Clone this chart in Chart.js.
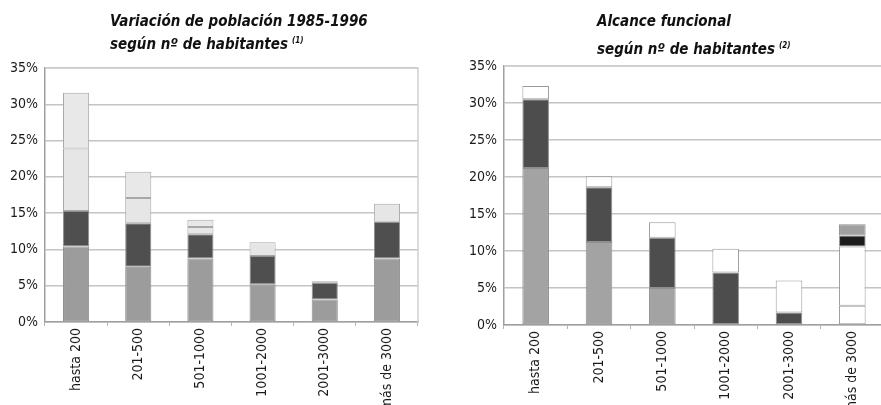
<!DOCTYPE html>
<html>
<head>
<meta charset="UTF-8">
<title>Variación de población / Alcance funcional</title>
<script src="https://cdn.jsdelivr.net/npm/chart.js@4.4.1/dist/chart.umd.min.js"></script>
<style>
  body { margin: 0; background: #fff; width: 881px; height: 405px; overflow: hidden; position: relative; }
  #izq { position: absolute; left: 0; top: 0; }
  #der { position: absolute; left: 440px; top: 0; }
</style>
</head>
<body>
<canvas id="izq" width="440" height="405"></canvas>
<canvas id="der" width="445" height="405"></canvas>
<script>
// categorias (tramos de habitantes)
var categorias = ["hasta 200", "201-500", "501-1000", "1001-2000", "2001-3000", "más de 3000"];
var yTicks = [0, 5, 10, 15, 20, 25, 30, 35];

// grafico 1: variacion de poblacion 1985-1996 (%)
var izqGris   = [10.4, 7.6, 8.75, 5.2, 3.1, 8.75];
var izqOscuro = [4.9, 6.0, 3.35, 3.9, 2.3, 5.05];
var izqClaro1 = [8.6, 3.5, 1.0, 1.9, 0.2, 2.5];
var izqClaro2 = [7.7, 3.6, 1.0, 0, 0, 0];

// grafico 2: alcance funcional (%)
var derGris    = [21.2, 11.2, 5.0, 0, 0, 0];
var derOscuro  = [9.3, 7.4, 6.8, 7.1, 1.7, 0];
var derBlanco  = [1.8, 1.5, 2.1, 3.2, 4.3, 2.6];
var derBlanco2 = [0, 0, 0, 0, 0, 8.0];
var derNegro   = [0, 0, 0, 0, 0, 1.5];
var derGris2   = [0, 0, 0, 0, 0, 1.5];

var fuente = "'Liberation Sans Narrow', 'DejaVu Sans Condensed', 'Liberation Sans', sans-serif";

function serie(datos, color, borde) {
    return {
        data: datos,
        backgroundColor: color,
        borderColor: borde || "#8f8f8f",
        borderWidth: 1,
        borderSkipped: false,
        barPercentage: 0.42,
        categoryPercentage: 1
    };
}

// marco gris del area de grafico + titulos alineados a la izquierda
function marcoYTitulo(lineas, tx, ty, nota) {
    return {
        id: "marco",
        beforeDatasetsDraw: function (chart) {
            var a = chart.chartArea, c = chart.ctx;
            c.save();
            c.strokeStyle = "#cfcfcf";
            c.lineWidth = 1.5;
            c.beginPath();
            c.moveTo(a.left, a.top);
            c.lineTo(a.right, a.top);
            c.lineTo(a.right, a.bottom);
            c.stroke();
            c.restore();
        },
        afterDraw: function (chart) {
            var c = chart.ctx;
            c.save();
            c.fillStyle = "#111";
            c.textBaseline = "alphabetic";
            c.font = "italic bold 15px " + fuente;
            c.fillText(lineas[0], tx, ty[0]);
            c.fillText(lineas[1], tx, ty[1]);
            var w = c.measureText(lineas[1]).width;
            c.font = "italic bold 8px " + fuente;
            c.fillText(nota, tx + w + 4, ty[1] - 6);
            c.restore();
        }
    };
}

function opciones(anchoY, altoX, pad) {
    return {
        responsive: false,
        animation: false,
        layout: { padding: pad },
        plugins: { legend: { display: false }, title: { display: false }, tooltip: { enabled: false } },
        scales: {
            x: {
                stacked: true,
                afterFit: function (s) { s.height = altoX; },
                grid: { drawOnChartArea: false, offset: true, tickLength: 4, color: "#b5b5b5" },
                border: { color: "#a0a0a0", width: 1.5 },
                ticks: { minRotation: 90, maxRotation: 90, padding: 2, color: "#1a1a1a", font: { family: fuente, size: 14 } }
            },
            y: {
                stacked: true,
                min: yTicks[0],
                max: yTicks[yTicks.length - 1],
                afterFit: function (s) { s.width = anchoY; },
                afterBuildTicks: function (s) { s.ticks = yTicks.map(function (v) { return { value: v }; }); },
                grid: { color: "#c4c4c4", lineWidth: 1.5, drawTicks: false },
                border: { color: "#a0a0a0", width: 1.5 },
                ticks: { padding: 7, color: "#1a1a1a", font: { family: fuente, size: 14 },
                         callback: function (v) { return v + "%"; } }
            }
        }
    };
}

new Chart(document.getElementById("izq"), {
    type: "bar",
    data: {
        labels: categorias,
        datasets: [
            serie(izqGris, "#9c9c9c"),
            serie(izqOscuro, "#4f4f4f"),
            serie(izqClaro1, "#e6e6e6", "#a8a8a8"),
            serie(izqClaro2, "#e8e8e8", "#a8a8a8")
        ]
    },
    options: opciones(45, 83, { top: 68, right: 22, left: 0, bottom: 0 }),
    plugins: [marcoYTitulo(["Variación de población 1985-1996", "según nº de habitantes"], 110, [26, 49], "(1)")]
});

new Chart(document.getElementById("der"), {
    type: "bar",
    data: {
        labels: categorias,
        datasets: [
            serie(derGris, "#a3a3a3"),
            serie(derOscuro, "#4d4d4d"),
            serie(derBlanco, "#ffffff", "#9a9a9a"),
            serie(derBlanco2, "#ffffff", "#9a9a9a"),
            serie(derNegro, "#1c1c1c"),
            serie(derGris2, "#a0a0a0")
        ]
    },
    options: opciones(64, 80, { top: 66, right: 1, left: 0, bottom: 0 }),
    plugins: [marcoYTitulo(["Alcance funcional", "según nº de habitantes"], 157, [26, 54], "(2)")]
});
</script>
</body>
</html>
